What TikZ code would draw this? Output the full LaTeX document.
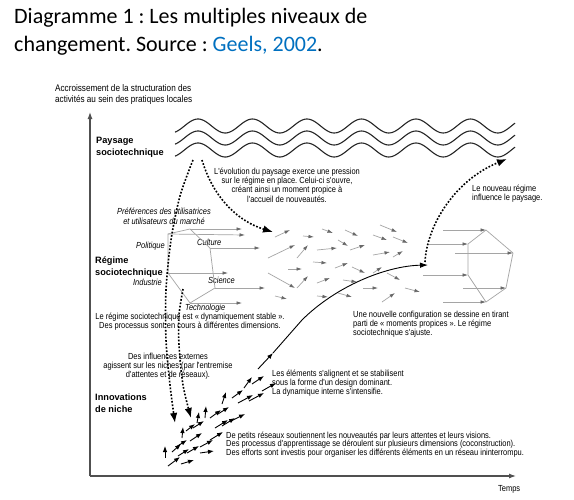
\documentclass[tikz,border=0pt]{standalone}
\usepackage{fontspec}
\setmainfont{Liberation Sans}
\newfontfamily\narrowfont[FakeStretch=0.85]{Liberation Sans}
\newfontfamily\titlefont[Ligatures=NoCommon]{Carlito}
\usetikzlibrary{arrows.meta}
\definecolor{linkblue}{RGB}{0,112,192}
\definecolor{arrgray}{RGB}{105,105,105}
\definecolor{hexgray}{RGB}{165,165,165}
\definecolor{axisgray}{RGB}{80,80,80}
\frenchspacing
\begin{document}
\begin{tikzpicture}[x=1pt,y=-1pt,
  titletxt/.style={font=\titlefont\fontsize{22}{28}\selectfont, inner sep=0pt, anchor=base west},
  body/.style={font=\narrowfont\fontsize{8.8}{9.3}\selectfont, inner sep=0pt},
  ital/.style={font=\narrowfont\itshape\fontsize{8.8}{10.5}\selectfont, inner sep=0pt},
  level/.style={font=\bfseries\fontsize{9.2}{11.5}\selectfont, inner sep=0pt, anchor=north west, align=left},
  wave/.style={line width=1.1pt, black!85},
  axis/.style={line width=1.2pt, axisgray, -{Latex[length=7pt,width=5pt]}},
  dotarr/.style={line width=1.6pt, dash pattern=on 1.7pt off 1.7pt, -{Latex[length=10pt,width=7.5pt]}},
  hexline/.style={draw=hexgray, line width=0.7pt},
  garr/.style={draw=hexgray, line width=0.7pt, -{Latex[length=5.5pt,width=3.6pt,color=arrgray]}},
  barr/.style={line width=0.9pt, -{Latex[length=6pt,width=4.5pt]}},
  curvearr/.style={line width=0.9pt, -{Latex[length=8pt,width=5.5pt]}}
]
\fill[white] (0,0) rectangle (574,499);
\path[use as bounding box] (0,0) rectangle (574,499);

% title
\node[titletxt] (t1) at (14,23) {Diagramme 1 : Les multiples niveaux de};
\node[titletxt] (t2) at (14,51) {changement. Source : \textcolor{linkblue}{Geels, 2002}.};

% axes
\coordinate (O) at (90,476);
\coordinate (ytop) at (90,112);
\coordinate (xend) at (516,476);
\draw[axis] (O) -- (ytop);
\draw[axis] (O) -- (xend);
\node[body, font=\narrowfont\fontsize{9.6}{11}\selectfont, anchor=north west, align=left] (ylab) at (55,84) {Accroissement de la structuration des\\activités au sein des pratiques locales};
\node[body, anchor=base west] (xlab) at (498,491) {Temps};

% waves
\foreach \o in {0,12,24}
  \draw[wave] plot[domain=175:515, samples=200] (\x, {126+\o-7*cos((\x-198)/54.5*360)});

% level labels
\node[level] (lvl1) at (96,137) {Paysage\\sociotechnique};
\node[level] (lvl2) at (95,257) {Régime\\sociotechnique};
\node[level] (lvl3) at (95,394) {Innovations\\de niche};

% texts
\node[body, anchor=north, align=center] (txtpay) at (287,167.5) {L'évolution du paysage exerce une pression\\sur le régime en place. Celui-ci s'ouvre,\\créant ainsi un moment propice à\\l'accueil de nouveautés.};
\node[body, anchor=north west, align=left] (txtnew) at (472,184.5) {Le nouveau régime\\influence le paysage.};
\node[ital, anchor=north, align=center] (txtpref) at (164,207.5) {Préférences des utilisatrices\\et utilisateurs du marché};
\node[ital, anchor=base east] (pol) at (165,248) {Politique};
\node[ital, anchor=base west] (cul) at (197,245) {Culture};
\node[ital, anchor=base east] (ind) at (162,285) {Industrie};
\node[ital, anchor=base west] (sci) at (208,283) {Science};
\node[ital, anchor=base west] (tec) at (185,310) {Technologie};
\node[body, anchor=north, align=center] (txtstab) at (190,312.5) {Le régime sociotechnique est « dynamiquement stable ».\\Des processus sont en cours à différentes dimensions.};
\node[body, anchor=north, align=center] (txtinf) at (168,352.5) {Des influences externes\\agissent sur les niches (par l'entremise\\d'attentes et de réseaux).};
\node[body, anchor=north west, align=left] (txtconf) at (353,310.5) {Une nouvelle configuration se dessine en tirant\\parti de « moments propices ». Le régime\\sociotechnique s'ajuste.};
\node[body, anchor=north west, align=left] (txtalign) at (272,369.5) {Les éléments s'alignent et se stabilisent\\sous la forme d'un design dominant.\\La dynamique interne s'intensifie.};
\node[body, anchor=north west, align=left, font=\narrowfont\fontsize{8.8}{8.8}\selectfont] (txtnich) at (226,431.5) {De petits réseaux soutiennent les nouveautés par leurs attentes et leurs visions.\\Des processus d'apprentissage se déroulent sur plusieurs dimensions (coconstruction).\\Des efforts sont investis pour organiser les différents éléments en un réseau ininterrompu.};

% left hexagon (current regime)
\coordinate (hA) at (168,234);
\coordinate (hB) at (190,229);
\coordinate (hC) at (210,248);
\coordinate (hD) at (215,288);
\coordinate (hE) at (190,303);
\coordinate (hF) at (168,273);
\draw[hexline] (hA) -- (hB) -- (hC) -- (hD) -- (hE) -- (hF) -- cycle;
\draw[garr] (hB) -- ++(52,0);
\draw[garr] (hA) -- ++(77,1);
\draw[garr] (hC) -- ++(50,0);
\draw[garr] (hF) -- ++(60,0);
\draw[garr] (hD) -- ++(50,0);
\draw[garr] (hE) -- ++(52,0);

% scattered arrows
\foreach \a/\b/\c/\d in {
  275/237/290/230, 303/236/314/237, 322/229/333/233, 345/230/358/236,
  380/225/397/232, 373/235/387/240, 393/237/408/243, 338/240/348/246,
  268/258/295/245, 297/258/308/245, 317/250/337/248, 350/250/365/245,
  373/255/390/252, 393/257/403/251, 313/262/327/263, 335/268/348/263,
  352/267/365/273, 373/273/382/267, 288/269/302/269, 268/273/295/288,
  297/288/308/276, 317/283/330/278, 343/280/357/282, 363/288/378/288,
  387/273/400/280, 405/288/420/292, 275/296/287/299, 317/296/328/297,
  338/293/352/297, 382/302/395/293}
  \draw[garr] (\a,\b) -- (\c,\d);

% right hexagon (new regime)
\coordinate (rT) at (486,230);
\coordinate (rUL) at (468,244);
\coordinate (rLL) at (468,275);
\coordinate (rB) at (486,302);
\coordinate (rRL) at (506,288);
\coordinate (rR) at (513,253);
\draw[hexline] (rT) -- (rUL) -- (rLL) -- (rB) -- (rRL) -- (rR) -- cycle;
\draw[garr] (443,230) -- (rT);
\draw[garr] (428,244) -- (rUL);
\draw[garr] (455,253) -- (rR);
\draw[garr] (423,275) -- (rLL);
\draw[garr] (463,288) -- (rRL);
\draw[garr] (443,302) -- (rB);

% niche arrows
\foreach \a/\b/\c/\d in {
  244/388/252/377, 252/384/264/376, 262/391/276/383, 238/403/253/395,
  249/401/264/393, 222/404/226/392, 232/398/243/390, 205/418/206/406,
  210/418/221/410, 218/414/229/407, 222/426/235/418, 231/421/245/414,
  193/428/204/421, 197/423/199/412, 215/428/228/420, 186/431/195/424,
  182/438/183/427, 190/441/202/433, 210/440/223/432, 200/447/213/440,
  176/447/187/440, 187/453/199/446, 200/453/214/451, 165/458/165/446,
  172/452/181/444, 168/466/180/457, 181/464/194/460, 178/456/189/449}
  \draw[barr] (\a,\b) -- (\c,\d);
\coordinate (nA) at (258,369);
\coordinate (nB) at (273,353);
\coordinate (nC) at (428,265);
\draw[barr] (nA) -- (nB);
\draw[curvearr] (nB) -- (302,320) .. controls (335,287) and (385,266) .. (nC);

% dotted influence arrows
\coordinate (w1) at (193,160);
\coordinate (w2) at (202,160);
\coordinate (reg1) at (273,232);
\coordinate (n1) at (175,423);
\coordinate (n2) at (191,418);
\coordinate (s2) at (183,289);
\coordinate (nr) at (425,262);
\coordinate (wend) at (507,159);
\draw[dotarr] (w2) .. controls (214,200) and (240,222) .. (reg1);
\draw[dotarr] plot[smooth] coordinates {(w1) (180,196) (171,240) (166,290) (166,340) (170,385) (n1)};
\draw[dotarr] plot[smooth] coordinates {(s2) (179,315) (179,345) (183,385) (n2)};
\draw[dotarr] (nr) .. controls (427,225) and (455,180) .. (wend);
\end{tikzpicture}
\end{document}
